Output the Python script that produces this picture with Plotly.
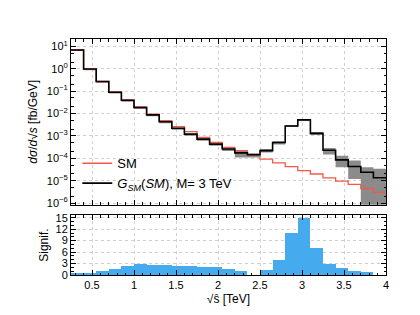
import plotly.graph_objects as go
import numpy as np

# bin edges (TeV)
bin_lo = [0.25, 0.40, 0.55, 0.70, 0.85, 1.00, 1.15, 1.30, 1.45, 1.60, 1.75, 1.90, 2.05,
          2.20, 2.35, 2.50, 2.65, 2.80, 2.95, 3.10, 3.25, 3.40, 3.55, 3.70, 3.85]
bin_w = 0.15

sm = [6.9, 0.97, 0.27, 0.092, 0.041, 0.020, 0.0095, 0.0048, 0.0026, 0.00155, 8.5e-4,
      5.1e-4, 3.1e-4, 2.2e-4, 1.4e-4, 9.3e-5, 6.3e-5, 4.3e-5, 2.8e-5, 2.0e-5, 1.35e-5,
      9.5e-6, 6.8e-6, 4.5e-6, 3.0e-6]
gsm = [6.9, 0.97, 0.27, 0.09, 0.039, 0.0185, 0.0087, 0.0043, 0.0022, 0.0012, 7.2e-4,
       4.3e-4, 2.6e-4, 1.75e-4, 1.45e-4, 2.2e-4, 5.1e-4, 2.8e-3, 5.2e-3, 1.3e-3, 2.3e-4,
       8.5e-5, 4.3e-5, 2.4e-5, 1.35e-5]
gsm_lo = [6.2, 0.85, 0.235, 0.078, 0.034, 0.016, 0.0075, 0.0037, 0.0019, 0.00102, 6.1e-4,
          3.6e-4, 2.1e-4, 1.1e-4, 1.1e-4, 1.8e-4, 4.2e-4, 2.5e-3, 4.8e-3, 1.1e-3, 1.5e-4,
          4.0e-5, 1.2e-5, 1e-8, 1e-8]
gsm_hi = [7.2, 1.01, 0.28, 0.094, 0.041, 0.0195, 0.0091, 0.0045, 0.0023, 0.00126, 7.6e-4,
          4.5e-4, 2.8e-4, 2.2e-4, 1.7e-4, 2.6e-4, 5.8e-4, 3.1e-3, 5.6e-3, 1.5e-3, 2.9e-4,
          1.3e-4, 7.9e-5, 4.0e-5, 3.4e-5]
signif = [0.26, 0.5, 1.0, 1.6, 2.3, 2.8, 2.7, 2.55, 2.45, 2.35, 2.2, 2.0, 1.6, 1.05, 0.0,
          1.3, 3.9, 11.1, 15.0, 7.1, 2.8, 1.75, 1.1, 0.7, 0.0]

x_ticks = [0.5, 1, 1.5, 2, 2.5, 3, 3.5, 4]
x_ticktext = ["0.5", "1", "1.5", "2", "2.5", "3", "3.5", "4"]
y_exps = [1, 0, -1, -2, -3, -4, -5, -6]
sig_ticks = [0, 3, 6, 9, 12, 15]

def step(vals):
    xs = list(bin_lo) + [bin_lo[-1] + bin_w]
    ys = list(vals) + [vals[-1]]
    return xs, ys

FONT = "Liberation Sans, Arial, sans-serif"
fig = go.Figure()

xs, ylo = step(gsm_lo)
_, yhi = step(gsm_hi)
fig.add_trace(go.Scatter(x=xs, y=ylo, mode="lines", line=dict(width=0, shape="hv"),
                         showlegend=False, hoverinfo="skip", xaxis="x", yaxis="y"))
fig.add_trace(go.Scatter(x=xs, y=yhi, mode="lines", line=dict(width=0, shape="hv"),
                         fill="tonexty", fillcolor="rgba(110,110,110,0.8)",
                         showlegend=False, hoverinfo="skip", xaxis="x", yaxis="y"))
xs, ys = step(sm)
fig.add_trace(go.Scatter(x=xs, y=ys, mode="lines", name="SM",
                         line=dict(color="#f25a46", width=1.3, shape="hv"),
                         xaxis="x", yaxis="y"))
xs, ys = step(gsm)
fig.add_trace(go.Scatter(x=xs, y=ys, mode="lines",
                         name="<i>G<sub>SM</sub></i>(<i>SM</i>), M= 3 TeV",
                         line=dict(color="black", width=1.6, shape="hv"),
                         xaxis="x", yaxis="y"))

fig.add_trace(go.Bar(x=[b + bin_w / 2 for b in bin_lo], y=signif, width=bin_w,
                     marker=dict(color="#45aaee", line=dict(width=0)),
                     showlegend=False, xaxis="x2", yaxis="y2"))

axis_common = dict(showline=True, linecolor="black", linewidth=1, mirror="ticks",
                   ticks="inside", ticklen=5, tickcolor="black",
                   showgrid=True, gridcolor="#d0d0d0", griddash="dot", gridwidth=1,
                   zeroline=False, tickfont=dict(size=11, color="black", family=FONT))

fig.update_layout(
    width=420, height=315,
    margin=dict(l=63, r=42, t=31, b=48),
    paper_bgcolor="white", plot_bgcolor="white",
    font=dict(family=FONT, color="black", size=11),
    bargap=0,
    xaxis=dict(domain=[0, 1], range=[0.25, 4], anchor="y", matches="x2",
               tickvals=x_ticks, showticklabels=False,
               minor=dict(ticks="inside", ticklen=2.5, dtick=0.1, tick0=0, tickcolor="black"),
               **axis_common),
    yaxis=dict(domain=[0.298, 1], type="log", range=[-6.07, 1.33], anchor="x",
               tickvals=[10.0 ** e for e in y_exps],
               ticktext=["10<sup>%s</sup>" % (str(e).replace("-", "\u2212")) for e in y_exps],
               minor=dict(ticks="inside", ticklen=2.5, tickcolor="black", showgrid=False),
               title=dict(text="<i>dσ</i>/<i>d</i>√<i>s</i> [fb/GeV]", font=dict(size=12), standoff=6),
               **axis_common),
    xaxis2=dict(domain=[0, 1], range=[0.25, 4], anchor="y2",
                tickvals=x_ticks, ticktext=x_ticktext,
                minor=dict(ticks="inside", ticklen=2.5, dtick=0.1, tick0=0, tickcolor="black"),
                title=dict(text="√ŝ [TeV]", font=dict(size=12), standoff=4),
                **axis_common),
    yaxis2=dict(domain=[0, 0.254], range=[0, 15.7], anchor="x2",
                tickvals=sig_ticks,
                minor=dict(ticks="inside", ticklen=2.5, dtick=1, tickcolor="black"),
                title=dict(text="Signif.", font=dict(size=12), standoff=4),
                **axis_common),
    legend=dict(x=0.02, y=0.325, xanchor="left", yanchor="bottom",
                traceorder="normal",
                bgcolor="rgba(0,0,0,0)", font=dict(size=13, family=FONT),
                tracegroupgap=0, itemwidth=30),
)

fig.write_html("out.html")
